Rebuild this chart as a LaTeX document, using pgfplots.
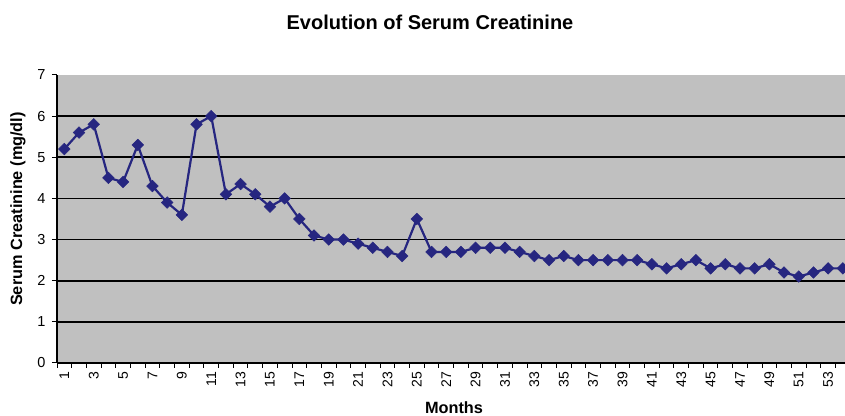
\documentclass[border=0pt]{standalone}
\usepackage{fontspec}
\setmainfont{Liberation Sans}
\usepackage{pgfplots}
\pgfplotsset{compat=1.18}
\usetikzlibrary{calc}
\definecolor{plotbg}{RGB}{192,192,192}
\definecolor{navyline}{RGB}{38,38,128}
\begin{document}
\begin{tikzpicture}
\begin{axis}[
  name=ax,
  scale only axis,
  width=788bp, height=288bp,
  xmin=0.5, xmax=54.15,
  ymin=0, ymax=7,
  axis background/.style={fill=plotbg},
  axis x line*=bottom,
  axis y line*=left,
  axis line style={black, line width=1.2bp},
  /pgf/number format/assume math mode=true,
  ytick={0,...,7},
  yticklabel style={font=\fontsize{14.5bp}{16bp}\selectfont, xshift=-3bp},
  extra y ticks={1,...,6},
  extra y tick labels={},
  extra y tick style={grid=major, major tick length=0pt},
  major grid style={black, line width=1.6bp},
  xtick={1,3,...,53},
  minor xtick={0.5,1.5,...,54.5},
  xticklabel style={font=\fontsize{14bp}{15bp}\selectfont, rotate=90, anchor=east, yshift=0bp},
  tick align=outside,
  major tick length=5bp,
  minor tick length=5bp,
  tick style={black, line width=1bp},
  major x tick style={draw=none},
  clip=true,
]
\addplot[navyline, line width=2.2bp, mark=square*, mark size=4.1bp, mark options={fill=navyline, draw=navyline, line width=0.5bp, rotate=45}] coordinates {
(1,5.2)(2,5.6)(3,5.8)(4,4.5)(5,4.4)(6,5.3)(7,4.3)(8,3.9)(9,3.6)(10,5.8)
(11,6.0)(12,4.1)(13,4.35)(14,4.1)(15,3.8)(16,4.0)(17,3.5)(18,3.1)(19,3.0)(20,3.0)
(21,2.9)(22,2.8)(23,2.7)(24,2.6)(25,3.5)(26,2.7)(27,2.7)(28,2.7)(29,2.8)(30,2.8)
(31,2.8)(32,2.7)(33,2.6)(34,2.5)(35,2.6)(36,2.5)(37,2.5)(38,2.5)(39,2.5)(40,2.5)
(41,2.4)(42,2.3)(43,2.4)(44,2.5)(45,2.3)(46,2.4)(47,2.3)(48,2.3)(49,2.4)(50,2.2)
(51,2.1)(52,2.2)(53,2.3)(54,2.3)
};
\end{axis}
\node[font=\bfseries\fontsize{20bp}{23bp}\selectfont] at ($(ax.north west)+(373bp,53bp)$) {Evolution of Serum Creatinine};
\node[font=\bfseries\fontsize{16.3bp}{18bp}\selectfont, rotate=90] at ($(ax.north west)+(-39bp,-134bp)$) {Serum Creatinine (mg/dl)};
\node[font=\bfseries\fontsize{16.3bp}{18bp}\selectfont] at ($(ax.south west)+(397bp,-45bp)$) {Months};
\pgfresetboundingbox
\path ($(ax.south west)+(-57bp,-53bp)$) rectangle ($(ax.north east)+(0bp,75bp)$);
\end{tikzpicture}
\end{document}
